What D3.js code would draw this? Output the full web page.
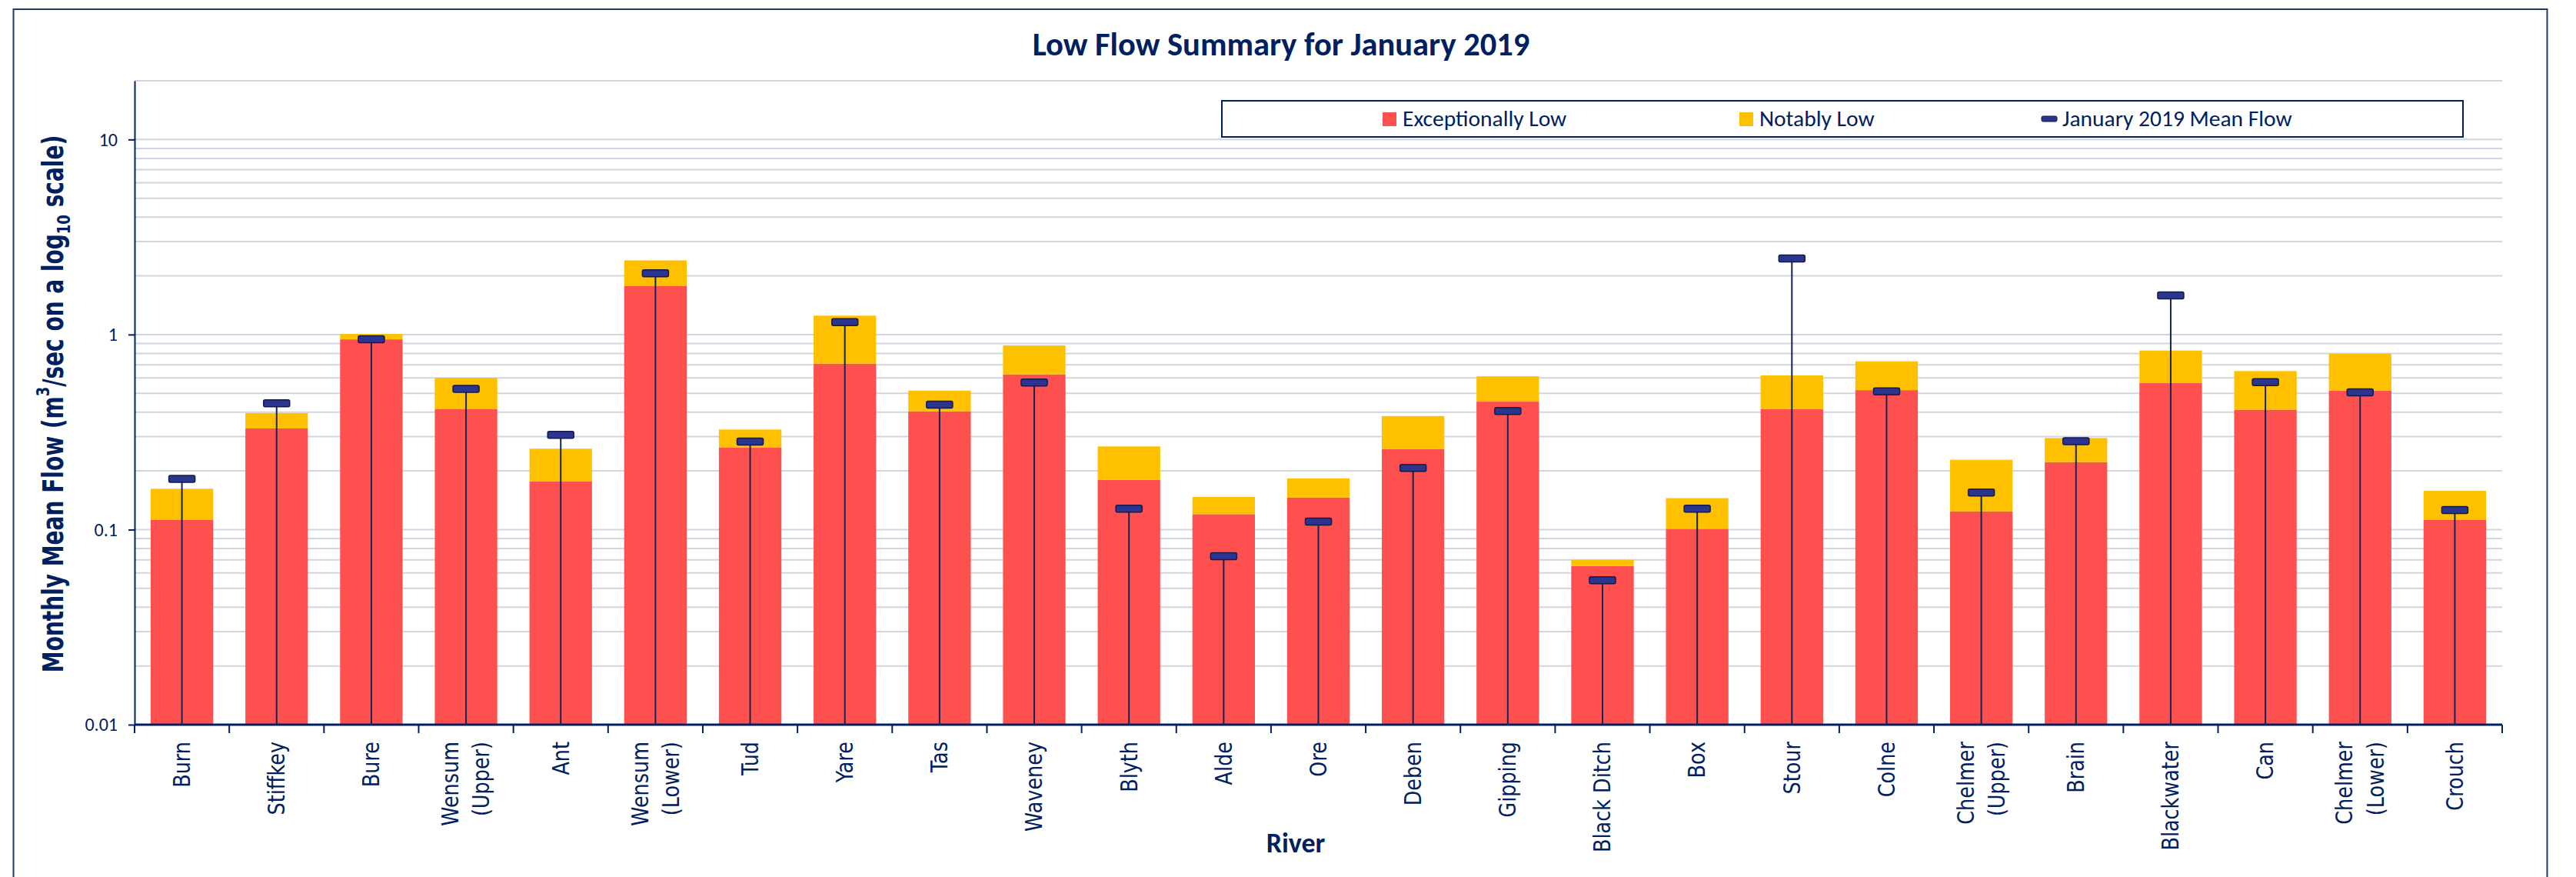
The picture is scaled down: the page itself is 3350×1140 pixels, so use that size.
<!DOCTYPE html>
<html>
<head>
<meta charset="utf-8">
<script src="https://cdn.jsdelivr.net/npm/d3@7"></script>
<style>
  body { margin: 0; background: #fff; }
</style>
</head>
<body>
<div id="chart"></div>
<script>
// rivers along the x axis
const rivers = ["Burn", "Stiffkey", "Bure", "Wensum (Upper)", "Ant", "Wensum (Lower)", "Tud", "Yare",
    "Tas", "Waveney", "Blyth", "Alde", "Ore", "Deben", "Gipping", "Black Ditch", "Box", "Stour",
    "Colne", "Chelmer (Upper)", "Brain", "Blackwater", "Can", "Chelmer (Lower)", "Crouch"];

// top of the red part of each bar (m3/s)
const exceptionallyLow = [0.112, 0.330, 0.945, 0.414, 0.177, 1.77, 0.264, 0.710,
    0.404, 0.625, 0.180, 0.120, 0.146, 0.259, 0.453, 0.065, 0.101, 0.415,
    0.519, 0.124, 0.222, 0.565, 0.412, 0.516, 0.112];

// top of the yellow part of each bar (m3/s)
const notablyLow = [0.162, 0.396, 1.007, 0.600, 0.260, 2.40, 0.326, 1.25,
    0.516, 0.879, 0.267, 0.147, 0.183, 0.382, 0.611, 0.070, 0.145, 0.617,
    0.729, 0.228, 0.295, 0.828, 0.650, 0.798, 0.158];

// January 2019 monthly mean flow (m3/s)
const meanFlow = [0.182, 0.444, 0.946, 0.527, 0.306, 2.06, 0.283, 1.158,
    0.437, 0.567, 0.128, 0.073, 0.110, 0.207, 0.406, 0.055, 0.128, 2.455,
    0.511, 0.155, 0.284, 1.587, 0.570, 0.505, 0.126];

const yTickValues = [0.01, 0.1, 1, 10];
const legendLabels = ["Exceptionally Low", "Notably Low", "January 2019 Mean Flow"];

function main() {
    const canvasWidth = 3350;
    const canvasHeight = 1140;
    const plot = { left: 175, right: 3254, top: 105, bottom: 942 };

    const navy = "#002060";
    const red = "#FF5050";
    const yellow = "#FFC000";
    const gridColor = "#cfd6df";
    const font = "Carlito, Calibri, Lato, sans-serif";
    const labelFont = "'DejaVu Sans', Verdana, sans-serif";

    const svg = d3.select("#chart").append("svg")
        .attr("width", canvasWidth)
        .attr("height", canvasHeight);

    // outer chart frame (bottom runs off the picture)
    svg.append("rect")
        .attr("x", 17.5).attr("y", 12)
        .attr("width", 3295).attr("height", 1200)
        .attr("fill", "none")
        .attr("stroke", "#1f3864")
        .attr("stroke-width", 2);

    const xScale = d3.scaleBand()
        .domain(rivers)
        .range([plot.left, plot.right])
        .paddingInner(0.34)
        .paddingOuter(0.17);

    const yScale = d3.scaleLog()
        .domain([0.01, 20])
        .range([plot.bottom, plot.top]);

    // gridlines at every 1..9 multiple
    svg.append("g").selectAll("line")
        .data(yScale.ticks())
        .join("line")
        .attr("x1", plot.left).attr("x2", plot.right)
        .attr("y1", d => yScale(d)).attr("y2", d => yScale(d))
        .attr("stroke", gridColor)
        .attr("stroke-width", 2);

    const data = rivers.map((r, i) => ({
        river: r,
        low: exceptionallyLow[i],
        notable: notablyLow[i],
        mean: meanFlow[i]
    }));

    // red part
    svg.append("g").selectAll("rect")
        .data(data)
        .join("rect")
        .attr("x", d => xScale(d.river))
        .attr("width", xScale.bandwidth())
        .attr("y", d => yScale(d.low))
        .attr("height", d => yScale(0.01) - yScale(d.low))
        .attr("fill", red);

    // yellow part stacked on top
    svg.append("g").selectAll("rect")
        .data(data)
        .join("rect")
        .attr("x", d => xScale(d.river))
        .attr("width", xScale.bandwidth())
        .attr("y", d => yScale(d.notable))
        .attr("height", d => yScale(d.low) - yScale(d.notable))
        .attr("fill", yellow);

    // y axis
    const yAxis = svg.append("g")
        .attr("transform", "translate(" + plot.left + ",0)")
        .call(d3.axisLeft(yScale)
            .tickValues(yTickValues)
            .tickFormat(d3.format("~g"))
            .tickSize(8)
            .tickSizeOuter(0)
            .tickPadding(14));
    yAxis.selectAll("path, line").attr("stroke", navy).attr("stroke-width", 2);
    yAxis.selectAll("text")
        .attr("font-family", font)
        .attr("font-size", "24px")
        .attr("fill", navy);

    // x axis line and ticks between the bands
    svg.append("line")
        .attr("x1", plot.left).attr("x2", plot.right)
        .attr("y1", plot.bottom).attr("y2", plot.bottom)
        .attr("stroke", navy)
        .attr("stroke-width", 3);

    const boundaries = rivers.map(r => xScale(r) + xScale.bandwidth() / 2 - xScale.step() / 2)
        .concat([xScale(rivers[rivers.length - 1]) + xScale.bandwidth() / 2 + xScale.step() / 2]);
    svg.append("g").selectAll("line")
        .data(boundaries)
        .join("line")
        .attr("x1", d => d).attr("x2", d => d)
        .attr("y1", plot.bottom).attr("y2", plot.bottom + 11)
        .attr("stroke", navy)
        .attr("stroke-width", 2);

    // rotated river names
    const labelG = svg.append("g").selectAll("g")
        .data(rivers)
        .join("g")
        .attr("transform", d => "translate(" + (xScale(d) + xScale.bandwidth() / 2) + "," + (plot.bottom + 22) + ") scale(1.2,1) rotate(-90)");

    labelG.each(function (d) {
        const lines = d.replace(" (", "\n(").split("\n");
        const t = d3.select(this).append("text")
            .attr("text-anchor", "end")
            .attr("font-family", labelFont)
            .attr("font-size", "25.5px")
            .attr("fill", navy);
        lines.forEach((line, i) => {
            t.append("tspan")
                .attr("x", 0)
                .attr("y", (i - (lines.length - 1) / 2) * 33.5)
                .attr("dominant-baseline", "central")
                .text(line);
        });
    });

    // mean flow: line from the axis up to a small marker
    svg.append("g").selectAll("line")
        .data(data)
        .join("line")
        .attr("x1", d => xScale(d.river) + xScale.bandwidth() / 2)
        .attr("x2", d => xScale(d.river) + xScale.bandwidth() / 2)
        .attr("y1", plot.bottom)
        .attr("y2", d => yScale(d.mean))
        .attr("stroke", "#14244f")
        .attr("stroke-width", 2);

    svg.append("g").selectAll("rect")
        .data(data)
        .join("rect")
        .attr("x", d => xScale(d.river) + xScale.bandwidth() / 2 - 17)
        .attr("y", d => yScale(d.mean) - 4.5)
        .attr("width", 34)
        .attr("height", 9)
        .attr("rx", 2)
        .attr("fill", "#2b3590")
        .attr("stroke", "#131a4a")
        .attr("stroke-width", 1.5);

    // title
    svg.append("text")
        .attr("x", 1666).attr("y", 72)
        .attr("text-anchor", "middle")
        .attr("font-family", font)
        .attr("font-weight", "bold")
        .attr("font-size", "42.5px")
        .attr("fill", navy)
        .text("Low Flow Summary for January 2019");

    // axis titles
    svg.append("text")
        .attr("x", 1685).attr("y", 1108)
        .attr("text-anchor", "middle")
        .attr("font-family", font)
        .attr("font-weight", "bold")
        .attr("font-size", "36px")
        .attr("fill", navy)
        .text("River");

    const yTitle = svg.append("text")
        .attr("transform", "translate(70,525) scale(1.3,1) rotate(-90)")
        .attr("text-anchor", "middle")
        .attr("dominant-baseline", "central")
        .attr("font-family", labelFont)
        .attr("font-weight", "bold")
        .attr("font-size", "28px")
        .attr("fill", navy);
    yTitle.append("tspan").text("Monthly Mean Flow (m");
    yTitle.append("tspan").attr("baseline-shift", "super").attr("font-size", "18px").text("3");
    yTitle.append("tspan").text("/sec on a log");
    yTitle.append("tspan").attr("baseline-shift", "sub").attr("font-size", "18px").text("10");
    yTitle.append("tspan").text(" scale)");

    // legend
    const legend = svg.append("g");
    legend.append("rect")
        .attr("x", 1589).attr("y", 131)
        .attr("width", 1614).attr("height", 47)
        .attr("fill", "#fff")
        .attr("stroke", navy)
        .attr("stroke-width", 2);

    const legendX = [1798, 2262, 2655];
    const swatches = [red, yellow, null];
    legendLabels.forEach((label, i) => {
        if (swatches[i]) {
            legend.append("rect")
                .attr("x", legendX[i]).attr("y", 146)
                .attr("width", 18).attr("height", 18)
                .attr("fill", swatches[i]);
        } else {
            legend.append("rect")
                .attr("x", legendX[i]).attr("y", 151)
                .attr("width", 20).attr("height", 7)
                .attr("rx", 2)
                .attr("fill", "#2b3590")
                .attr("stroke", "#131a4a")
                .attr("stroke-width", 1);
        }
        legend.append("text")
            .attr("x", legendX[i] + (swatches[i] ? 26 : 27))
            .attr("y", 164)
            .attr("font-family", font)
            .attr("font-size", "29.5px")
            .attr("fill", navy)
            .text(label);
    });
}
main();
</script>
</body>
</html>
